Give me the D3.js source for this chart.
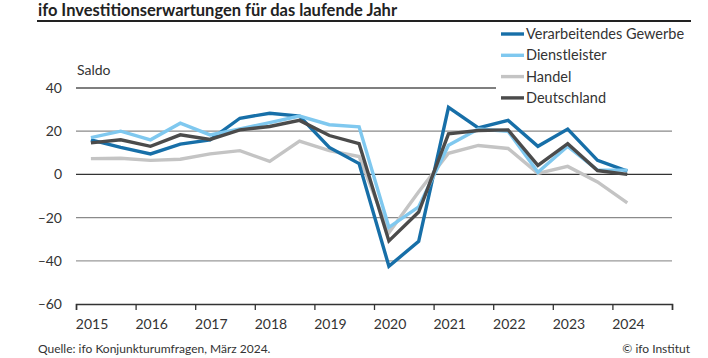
<!DOCTYPE html>
<html>
<head>
<meta charset="utf-8">
<script src="https://cdn.jsdelivr.net/npm/d3@7"></script>
<style>
  html, body { margin: 0; padding: 0; background: #fff; }
  svg { display: block; font-family: Lato, "Open Sans", sans-serif; }
</style>
</head>
<body>
<svg id="chart" width="708" height="358"></svg>
<script>
// ---- data ----
const periods = [
  "Frühjahr 2015","Herbst 2015","Frühjahr 2016","Herbst 2016","Frühjahr 2017","Herbst 2017",
  "Frühjahr 2018","Herbst 2018","Frühjahr 2019","Herbst 2019","Frühjahr 2020","Herbst 2020",
  "Frühjahr 2021","Herbst 2021","Frühjahr 2022","Herbst 2022","Frühjahr 2023","Herbst 2023",
  "Frühjahr 2024"
];
const verarbeitendesGewerbe = [16, 12.5, 9.5, 14, 16, 26, 28.3, 27, 12.5, 5, -42.5, -31, 31, 21.5, 25, 13, 21, 6.5, 1.5];
const dienstleister         = [17, 20, 16, 23.7, 18.3, 21, 24, 27, 23, 22, -24.5, -15, 13.5, 21, 20, 1, 13, 2, 2];
const handel                = [7.3, 7.5, 6.5, 7, 9.5, 11, 6, 15.4, 11, 8.3, -27, -8, 9.8, 13.4, 12, 0.5, 3.7, -3.5, -13.2];
const deutschland           = [14.6, 16, 13, 18.3, 16.2, 20.6, 22.2, 25, 18, 14.2, -30.8, -17.4, 18.8, 20.3, 20.6, 4.2, 14.2, 1.8, 0];
const seriesNames = ["Verarbeitendes Gewerbe", "Dienstleister", "Handel", "Deutschland"];
const yearLabels = ["2015","2016","2017","2018","2019","2020","2021","2022","2023","2024"];
const yTicks = [40, 20, 0, -20, -40, -60];

// ---- layout ----
(function () {
const svg = d3.select("#chart");
const colors = {
  "Verarbeitendes Gewerbe": "#176fa8",
  "Dienstleister": "#7fc8ef",
  "Handel": "#c4c4c4",
  "Deutschland": "#4b4b4b"
};
const pLeft = 76, pRight = 672, pTop = 88, pBottom = 304;

const x = d3.scaleLinear().domain([2015, 2025]).range([pLeft, pRight]);
const y = d3.scaleLinear().domain([40, -60]).range([pTop, pBottom]);

function periodToYear(p) {
  const parts = p.split(" ");
  return +parts[1] + (parts[0] === "Frühjahr" ? 0.25 : 0.75);
}

// title
svg.append("text").attr("x", 38).attr("y", 16)
  .attr("font-size", 16.5).attr("font-weight", 700).attr("fill", "#222")
  .text("ifo Investitionserwartungen für das laufende Jahr");
svg.append("line").attr("x1", 37).attr("x2", 691).attr("y1", 21).attr("y2", 21)
  .attr("stroke", "#222").attr("stroke-width", 2);

// gridlines
const gridColor = {40: "#555", 20: "#8a8a8a", 0: "#333", "-20": "#8a8a8a", "-40": "#9a9a9a"};
svg.append("g").selectAll("line").data(yTicks.filter(d => d !== -60)).join("line")
  .attr("x1", pLeft).attr("x2", pRight)
  .attr("y1", d => y(d)).attr("y2", d => y(d))
  .attr("stroke", d => gridColor[d]).attr("stroke-width", 1.3);

// y labels
svg.append("g").selectAll("text").data(yTicks).join("text")
  .attr("x", 62).attr("y", d => y(d)).attr("dy", "0.35em")
  .attr("text-anchor", "end").attr("font-size", 14).attr("fill", "#333")
  .text(d => d < 0 ? "\u2013" + Math.abs(d) : d);
svg.append("text").attr("x", 77).attr("y", 75)
  .attr("font-size", 14).attr("fill", "#333").text("Saldo");

// x axis
const xAxis = d3.axisBottom(x)
  .tickValues(d3.range(2015, 2026))
  .tickSize(6).tickFormat("");
const gx = svg.append("g").attr("transform", `translate(0,${pBottom})`).call(xAxis);
gx.select(".domain").attr("stroke", "#333").attr("stroke-width", 1.5);
gx.selectAll(".tick line").attr("stroke", "#333").attr("stroke-width", 1.3);
svg.append("g").selectAll("text").data(yearLabels).join("text")
  .attr("x", d => x(+d + 0.27)).attr("y", 329)
  .attr("text-anchor", "middle").attr("font-size", 14).attr("fill", "#333")
  .text(d => d);

// legend background (covers gridline)
svg.append("rect").attr("x", 496).attr("y", 24).attr("width", 200).attr("height", 84).attr("fill", "#fff");

// lines
const line = d3.line()
  .x((d, i) => x(periodToYear(periods[i])))
  .y(d => y(d));
const drawOrder = [
  ["Handel", handel],
  ["Verarbeitendes Gewerbe", verarbeitendesGewerbe],
  ["Dienstleister", dienstleister],
  ["Deutschland", deutschland]
];
svg.append("g").selectAll("path").data(drawOrder).join("path")
  .attr("d", d => line(d[1]))
  .attr("fill", "none")
  .attr("stroke", d => colors[d[0]])
  .attr("stroke-width", 3.4)
  .attr("stroke-linejoin", "miter");

// legend
const lg = svg.append("g").selectAll("g").data(seriesNames).join("g")
  .attr("transform", (d, i) => `translate(501,${34 + i * 21.3})`);
lg.append("line").attr("x1", 0).attr("x2", 23).attr("y1", 0).attr("y2", 0)
  .attr("stroke", d => colors[d]).attr("stroke-width", 3.4);
lg.append("text").attr("x", 25).attr("y", 0).attr("dy", "0.35em")
  .attr("font-size", 14.5).attr("fill", "#333").text(d => d);

// footer
svg.append("text").attr("x", 38).attr("y", 353)
  .attr("font-size", 12).attr("fill", "#333").text("Quelle: ifo Konjunkturumfragen, März 2024.");
svg.append("text").attr("x", 690).attr("y", 353).attr("text-anchor", "end")
  .attr("font-size", 12).attr("fill", "#333").text("© ifo Institut");
})();
</script>
</body>
</html>
